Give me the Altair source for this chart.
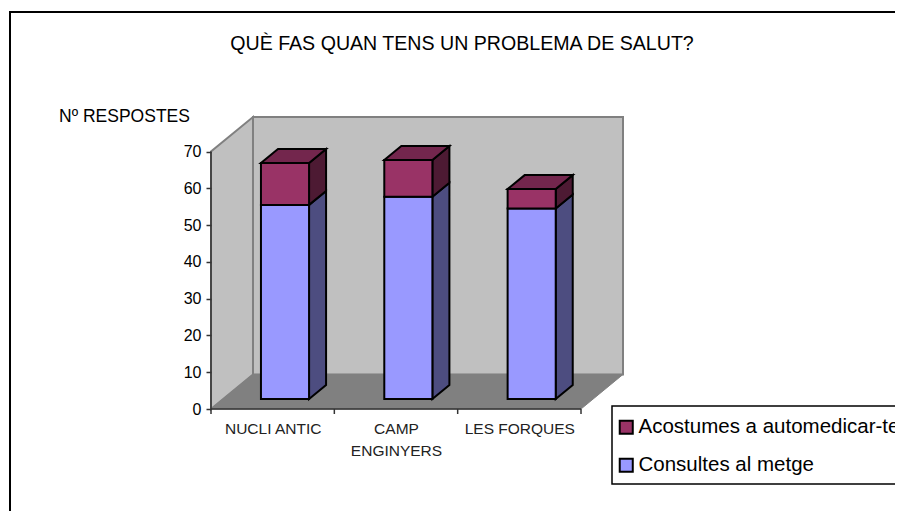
import altair as alt
import pandas as pd

TITLE = "QUÈ FAS QUAN TENS UN PROBLEMA DE SALUT?"
Y_TITLE = "Nº RESPOSTES"
CATEGORIES = [["NUCLI ANTIC"], ["CAMP", "ENGINYERS"], ["LES FORQUES"]]
SERIES = ["Acostumes a automedicar-te", "Consultes al metge"]
CONSULTES = [52.8, 55, 51.8]
AUTOMEDICAR = [11.4, 10, 5.3]
Y_TICKS = [0, 10, 20, 30, 40, 50, 60, 70]

FONT = "Liberation Sans"
RED, RED_SIDE, RED_TOP = "#993366", "#4D1A33", "#73264D"
BLUE, BLUE_SIDE = "#9999FF", "#4D4D80"

# depth of the box and of the bars, in axis units
W_DX, W_DY = 0.3405, 9.4
B_DX, B_DY = 0.138, 3.8
B_X, B_W, B_BASE = 0.405, 0.39, 2.7
N = len(CATEGORIES)
Y_MAX = 70

xs = alt.Scale(domain=[0, N + W_DX], nice=False, zero=False)
ys = alt.Scale(domain=[0, Y_MAX + W_DY], nice=False, zero=False)

x_axis = alt.Axis(values=[i + 0.5 for i in range(N)], title=None, tickSize=0, domain=False, grid=False, zindex=1,
                  labelExpr=f"{CATEGORIES}[floor(datum.value)]",
                  labelFont=FONT, labelFontSize=15.5, labelColor="#222222", labelPadding=24,
                  labelLineHeight=22, labelOverlap=False, labelFlush=False, labelAngle=0,
                  labelBaseline="alphabetic")
y_axis = alt.Axis(values=Y_TICKS, title=Y_TITLE, titleAngle=0, titleX=-87, titleY=-1,
                  titleAlign="center", titleBaseline="middle", titleFont=FONT, zindex=1,
                  titleFontSize=17.5, titleFontWeight="normal", titleColor="black",
                  tickSize=5, tickColor="#333333", tickWidth=1.5, domain=False, grid=False,
                  labelFont=FONT, labelFontSize=16, labelColor="black", labelPadding=5)

X = lambda f="x": alt.X(f"{f}:Q", scale=xs, axis=x_axis)
Y = lambda f="y": alt.Y(f"{f}:Q", scale=ys, axis=y_axis)

# rows of the vertical-sided and the horizontal-sided parallelograms
def vface(rows, fill, stroke, sw):
    return alt.Chart(pd.DataFrame(rows)).mark_area(
        fill=fill, stroke=stroke, strokeWidth=sw, clip=False, interpolate="linear"
    ).encode(x=X(), y=Y(), y2=alt.Y2("y2:Q"), detail="k:N")

def hface(rows, fill, stroke, sw):
    return alt.Chart(pd.DataFrame(rows)).mark_area(
        orient="horizontal", fill=fill, stroke=stroke, strokeWidth=sw, clip=False, interpolate="linear"
    ).encode(y=Y(), x=X(), x2=alt.X2("x2:Q"), detail="k:N")

# outer frame of the chart and box behind the legend
frame = alt.Chart(pd.DataFrame({"a": [0]})).mark_rect(
    fillOpacity=0, stroke="black", strokeWidth=2
).encode(x=alt.value(-201), x2=alt.value(1000), y=alt.value(-105), y2=alt.value(900))

legend_box = alt.Chart(pd.DataFrame({"a": [0]})).mark_rect(
    fill="white", stroke="black", strokeWidth=1.5
).encode(x=alt.value(401), x2=alt.value(1000), y=alt.value(289), y2=alt.value(367))

back = alt.Chart(pd.DataFrame([{"x": W_DX, "x2": N + W_DX, "y": W_DY, "y2": Y_MAX + W_DY}])).mark_rect(
    fill="#C0C0C0", stroke="#808080", strokeWidth=2
).encode(x=X(), x2="x2:Q", y=Y(), y2="y2:Q")

left = vface([
    {"k": 0, "x": 0, "y": 0, "y2": Y_MAX},
    {"k": 0, "x": W_DX, "y": W_DY, "y2": Y_MAX + W_DY},
], "#C0C0C0", "#808080", 2)

floor = hface([
    {"k": 0, "y": 0, "x": 0, "x2": N},
    {"k": 0, "y": W_DY, "x": W_DX, "x2": N + W_DX},
], "#808080", "#808080", 1)

# bars
front, blue_side, red_side, red_top = [], [], [], []
for i in range(N):
    x0 = i + B_X
    x1 = x0 + B_W
    y0 = B_BASE
    y1 = y0 + CONSULTES[i]
    y2 = y1 + AUTOMEDICAR[i]
    front.append({"serie": SERIES[1], "x": x0, "x2": x1, "y": y0, "y2": y1})
    front.append({"serie": SERIES[0], "x": x0, "x2": x1, "y": y1, "y2": y2})
    blue_side += [{"k": i, "x": x1, "y": y0, "y2": y1}, {"k": i, "x": x1 + B_DX, "y": y0 + B_DY, "y2": y1 + B_DY}]
    red_side += [{"k": i, "x": x1, "y": y1, "y2": y2}, {"k": i, "x": x1 + B_DX, "y": y1 + B_DY, "y2": y2 + B_DY}]
    red_top += [{"k": i, "y": y2, "x": x0, "x2": x1}, {"k": i, "y": y2 + B_DY, "x": x0 + B_DX, "x2": x1 + B_DX}]

sides = [
    vface(blue_side, BLUE_SIDE, "black", 2),
    vface(red_side, RED_SIDE, "black", 2),
    hface(red_top, RED_TOP, "black", 2),
]

bars = alt.Chart(pd.DataFrame(front)).mark_rect(stroke="black", strokeWidth=2).encode(
    x=X(), x2="x2:Q", y=Y(), y2="y2:Q",
    color=alt.Color("serie:N", scale=alt.Scale(domain=SERIES, range=[RED, BLUE]),
                    legend=alt.Legend(title=None, orient="none", legendX=405, legendY=300,
                                      padding=0, symbolType="square", symbolSize=170,
                                      symbolStrokeColor="black", symbolStrokeWidth=2,
                                      labelFont=FONT, labelFontSize=20.5, labelColor="black",
                                      labelLimit=500, labelOffset=2, rowPadding=16)),
)

# front edges of the box: axis lines and category ticks
axis_rules = alt.Chart(pd.DataFrame([
    {"x": 0, "x2": 0, "y": 0, "y2": Y_MAX},
    {"x": 0, "x2": N, "y": 0, "y2": 0},
])).mark_rule(color="#333333", strokeWidth=1.5).encode(x=X(), x2="x2:Q", y=Y(), y2="y2:Q")

x_ticks = alt.Chart(pd.DataFrame({"x": list(range(N + 1))})).mark_rule(
    color="#333333", strokeWidth=1.5
).encode(x=X(), y=alt.value(292), y2=alt.value(297))

chart = alt.layer(frame, legend_box, back, left, floor, *sides, bars, axis_rules, x_ticks).properties(
    width=412, height=292,
    padding={"left": 203, "top": 109, "right": 272, "bottom": 102},
    autosize=alt.AutoSizeParams(type="none"),
    background="white",
    title=alt.TitleParams(TITLE, font=FONT, fontSize=19.6, fontWeight="normal", color="black",
                          anchor="middle", frame="group", dx=45, dy=44, offset=0),
).configure_view(stroke=None)

chart.save("out.html", embed_options={"renderer": "svg", "actions": False})
